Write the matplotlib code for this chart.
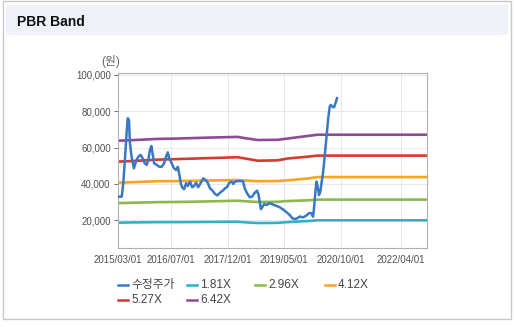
import matplotlib
matplotlib.use('Agg')
import matplotlib.pyplot as plt
import matplotlib.dates as mdates
from matplotlib.patches import Rectangle
from matplotlib.lines import Line2D
from matplotlib.ticker import FuncFormatter
import pandas as pd

plt.rcParams['font.family'] = ['Liberation Sans', 'Noto Sans CJK KR', 'DejaVu Sans']

# ---- data ----
price_dates = [
    '2015-03-01', '2015-04-07', '2015-04-21', '2015-05-06', '2015-05-22', '2015-06-01',
    '2015-06-12', '2015-06-21', '2015-07-06', '2015-07-27', '2015-08-15', '2015-09-05',
    '2015-09-27', '2015-10-15', '2015-11-03', '2015-11-21', '2015-12-06', '2015-12-21',
    '2016-01-03', '2016-01-16', '2016-01-28', '2016-02-22', '2016-03-15', '2016-04-07',
    '2016-04-28', '2016-05-16', '2016-06-01', '2016-06-15', '2016-07-07', '2016-07-28',
    '2016-08-16', '2016-09-01', '2016-09-15', '2016-09-28', '2016-10-10', '2016-10-28',
    '2016-11-16', '2016-12-01', '2016-12-22', '2017-01-10', '2017-01-28', '2017-02-15',
    '2017-03-06', '2017-03-28', '2017-04-21', '2017-05-13', '2017-06-01', '2017-06-22',
    '2017-07-16', '2017-08-07', '2017-08-28', '2017-09-22', '2017-10-16', '2017-11-07',
    '2017-11-28', '2017-12-15', '2018-01-07', '2018-01-21', '2018-02-06', '2018-03-06',
    '2018-04-07', '2018-04-21', '2018-05-06', '2018-05-27', '2018-06-21', '2018-07-12',
    '2018-08-06', '2018-08-27', '2018-09-10', '2018-09-22', '2018-10-01', '2018-10-16',
    '2018-10-31', '2018-11-22', '2018-12-15', '2019-01-07', '2019-01-31', '2019-02-22',
    '2019-03-22', '2019-04-28', '2019-05-28', '2019-06-22', '2019-07-16', '2019-08-07',
    '2019-08-28', '2019-09-22', '2019-10-22', '2019-11-22', '2019-12-15', '2020-01-07',
    '2020-01-21', '2020-01-31', '2020-02-13', '2020-02-22', '2020-03-06', '2020-03-15',
    '2020-03-28', '2020-04-09', '2020-04-21', '2020-05-06', '2020-05-22', '2020-06-06',
    '2020-06-21', '2020-07-01', '2020-07-16', '2020-07-31', '2020-08-13', '2020-08-27',
]
price_values = [
    33000, 33000, 40400, 53200, 68800, 76200,
    75200, 62400, 55000, 48600, 52300, 55000,
    56000, 54100, 51400, 50500, 53200, 58700,
    60900, 56000, 51400, 50500, 49500, 49500,
    51400, 55000, 57400, 54100, 51400, 48600,
    47700, 49500, 45000, 40400, 38200, 37100,
    40400, 38900, 41300, 38200, 38900, 40700,
    38200, 40400, 43100, 42200, 40700, 37600,
    36300, 34500, 33700, 35200, 36300, 37600,
    38500, 40700, 41300, 40000, 41300, 41600,
    41600, 41300, 37600, 34900, 32700, 33000,
    35200, 36300, 33900, 29400, 26100, 27500,
    29000, 28400, 29400, 29000, 28400, 27900,
    27200, 25700, 24200, 22900, 21100, 20700,
    21100, 22100, 21600, 22700, 24000, 23900,
    22000, 27500, 36700, 41300, 37600, 33900,
    35800, 41300, 45900, 55000, 65200, 75200,
    82500, 83500, 82500, 82200, 84400, 87200,
]

band_dates = ['2015-03-01', '2015-06-01', '2016-03-01', '2016-09-01', '2017-06-01',
              '2018-03-01', '2018-06-01', '2018-09-01', '2019-03-01', '2019-06-01',
              '2019-12-01', '2020-03-01', '2022-12-01']
band_181 = [18700, 18800, 19000, 19000, 19100, 19200, 18800, 18500, 18600, 19000, 19600, 20000, 20000]
band_296 = [29500, 29600, 30000, 30100, 30400, 30800, 30400, 30100, 30200, 30600, 31000, 31400, 31400]
band_412 = [40700, 40900, 41500, 41600, 41900, 42200, 41800, 41500, 41600, 42000, 43000, 43800, 43800]
band_527 = [52300, 52500, 53400, 53700, 54200, 54700, 53800, 52800, 53000, 54000, 55000, 55600, 55600]
band_642 = [63800, 64000, 64800, 65000, 65500, 65900, 65000, 64200, 64300, 65000, 66400, 67100, 67100]

series_labels = ['수정주가', '1.81X', '2.96X', '4.12X', '5.27X', '6.42X']
series_colors = ['#3a78c4', '#2bb3c6', '#8cb84f', '#f5a623', '#d43b2f', '#8e4a96']
tick_dates = ['2015/03/01', '2016/07/01', '2017/12/01', '2019/05/01', '2020/10/01', '2022/04/01']
y_ticks = [20000, 40000, 60000, 80000, 100000]

# ---- figure ----
W, H = 514, 327
fig = plt.figure(figsize=(W / 100, H / 100), dpi=100, facecolor='white')


def fx(x):
    return x / W


def fy(y):
    return 1 - y / H


# outer frame and header band (kept behind the axes)
fig.patches.append(Rectangle((fx(3), fy(319)), fx(508), 318 / H, transform=fig.transFigure,
                             facecolor='white', edgecolor='#c9c9c9', lw=1.0, zorder=-10))
fig.patches.append(Rectangle((fx(6), fy(35)), fx(502), 30 / H, transform=fig.transFigure,
                             facecolor='#eef2f8', edgecolor='none', zorder=-9))
fig.text(fx(17), fy(22), 'PBR Band', fontsize=10, fontweight='bold', color='#111111',
         va='center', ha='left')

ax = fig.add_axes([fx(117.7), fy(248.3), fx(427.3) - fx(117.7), fy(73.3) - fy(248.3)])
ax.set_facecolor('white')

pdates = pd.to_datetime(price_dates)
bdates = pd.to_datetime(band_dates)
bands = [band_181, band_296, band_412, band_527, band_642]

for vals, col in zip(bands, series_colors[1:]):
    ax.plot(bdates, vals, color=col, lw=1.9, solid_capstyle='butt', zorder=2)
ax.plot(pdates, price_values, color=series_colors[0], lw=1.8, zorder=3)

ax.set_xlim(pd.Timestamp('2015-03-01'), pd.Timestamp('2022-12-01'))
ax.set_ylim(4600, 100900)
ax.set_xticks(pd.to_datetime(tick_dates, format='%Y/%m/%d'))
ax.xaxis.set_major_formatter(mdates.DateFormatter('%Y/%m/%d'))
ax.set_yticks(y_ticks)
ax.yaxis.set_major_formatter(FuncFormatter(lambda v, p: f'{int(v):,}'))
ax.tick_params(axis='both', labelsize=7, colors='#505050', length=3, width=0.6, pad=2)
ax.tick_params(axis='x', length=0, pad=5)
ax.grid(True, color='#e8e8e8', lw=0.7, zorder=0)
ax.set_axisbelow(True)
for s in ax.spines.values():
    s.set_color('#b0b0b0')
    s.set_linewidth(0.8)

fig.text(fx(101), fy(62), '(원)', fontsize=8.5, color='#666666', va='center', ha='left')

# legend laid out in fixed-width columns like the original
leg_pos = [(118, 285), (187, 285), (255, 285), (325, 285), (118, 300), (187, 300)]
for (lx, ly), lab, col in zip(leg_pos, series_labels, series_colors):
    fig.lines.append(Line2D([fx(lx), fx(lx + 10)], [fy(ly), fy(ly)], transform=fig.transFigure,
                            color=col, lw=1.8))
    fig.text(fx(lx + 13), fy(ly), lab, fontsize=8.5, color='#444444', va='center', ha='left')

fig.savefig('out.png', dpi=100, facecolor='white')
